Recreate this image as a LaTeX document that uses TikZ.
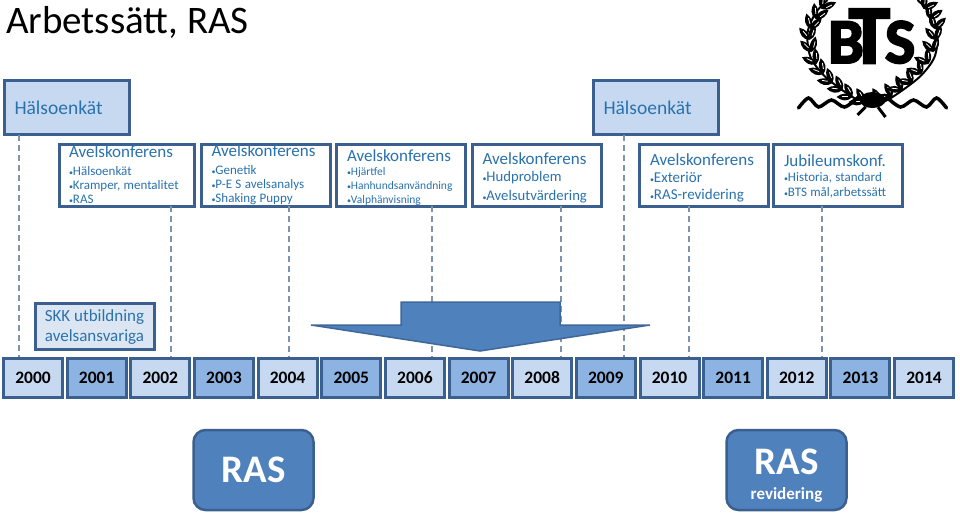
\documentclass[tikz,border=0pt]{standalone}
\usepackage{fontspec}
\usetikzlibrary{shapes.geometric}
\setmainfont{Carlito}
\newfontfamily\btsfont[BoldFeatures={FakeBold=3}]{Carlito}
\definecolor{ramblue}{HTML}{3B6090}
\definecolor{ljusblue}{HTML}{C6D9F1}
\definecolor{mellanblue}{HTML}{8DB3E2}
\definecolor{skkblue}{HTML}{DCE6F2}
\definecolor{textblue}{HTML}{2A72AE}
\definecolor{pilblue}{HTML}{4F81BD}
\definecolor{streckgray}{HTML}{7F93AD}
% heading of a conference box; the optional length pushes the block down
\newcommand{\rubrik}[2][0pt]{{\fontsize{17}{18}\selectfont\rule{0pt}{#1}#2}}
\newcommand{\punkt}[2]{{\fontsize{#1}{#1}\selectfont{\fontsize{8}{8}\selectfont\textbullet}#2}}
\begin{document}
\begin{tikzpicture}[
    x=1pt, y=-1pt,
    every node/.style={inner sep=0pt, outer sep=0pt},
    konfbox/.style={draw=ramblue, fill=white, line width=3pt, minimum width=129pt, minimum height=62pt,
      text=textblue, align=left, text width=108pt},
    halsabox/.style={draw=ramblue, fill=ljusblue, line width=3pt, minimum width=125pt, minimum height=54pt,
      text=textblue, font=\fontsize{19.5}{24}\selectfont},
    yearbox/.style={draw=ramblue, line width=3pt, minimum width=59pt, minimum height=39pt,
      font=\fontsize{17.5}{20}\selectfont\bfseries, text=black},
    rasbox/.style={draw=ramblue, fill=pilblue, line width=2.5pt, rounded corners=12pt, minimum width=120pt,
      minimum height=80pt, text=white, align=center},
    streck/.style={draw=streckgray, line width=1.1pt, dash pattern=on 6pt off 4pt},
    blad/.pic={
      \fill[black] (0,0) .. controls (5,5) and (11,4) .. (16,0) .. controls (11,-4) and (5,-5) .. (0,0);
      \draw[white, line width=.8pt] (5,.8) -- (11,.8);
    }
  ]
  \useasboundingbox (0,0) rectangle (960,515);

  %--------------------------------------
  % 1) Title
  %--------------------------------------
  \node[anchor=west, font=\fontsize{39}{42}\selectfont, text=black] (titel) at (6,22) {Arbetssätt, RAS};

  %--------------------------------------
  % 2) Lower ends of the dashed lines
  %--------------------------------------
  \coordinate (d0) at (19,357);
  \coordinate (d1) at (171,357);
  \coordinate (d2) at (289,357);
  \coordinate (d3) at (432,357);
  \coordinate (d4) at (561,357);
  \coordinate (d5) at (624,357);
  \coordinate (d6) at (689,357);
  \coordinate (d7) at (822,357);

  %--------------------------------------
  % 3) Survey boxes
  %--------------------------------------
  \node[halsabox, anchor=west, text width=104pt, align=left, inner xsep=10.5pt] (halsa1) at (4,107.5) {Hälsoenkät};
  \node[halsabox, anchor=west, text width=104pt, align=left, inner xsep=10.5pt] (halsa2) at (593,107.5) {Hälsoenkät};

  %--------------------------------------
  % 4) Conference boxes
  %--------------------------------------
  \node[konfbox, minimum width=135pt, text width=115pt] (konf1) at (126.5,175) {\rubrik{Avelskonferens}\\[6pt]
    \punkt{13}{Hälsoenkät}\\[2pt]\punkt{13}{Kramper, mentalitet}\\[2pt]\punkt{13}{RAS}};
  \node[konfbox] (konf2) at (265.5,175) {\rubrik{Avelskonferens}\\[6pt]
    \punkt{13}{Genetik}\\[2pt]\punkt{13}{P-E S avelsanalys}\\[2pt]\punkt{13}{Shaking Puppy}};
  \node[konfbox] (konf3) at (401,175) {\rubrik[17pt]{Avelskonferens}\\[2pt]
    \punkt{11.5}{Hjärtfel}\\[2pt]\punkt{11.5}{Hanhundsanvändning}\\[2pt]\punkt{11.5}{Valphänvisning}};
  \node[konfbox] (konf4) at (536.5,175) {\rubrik[18pt]{Avelskonferens}\\[5pt]
    \punkt{14.7}{Hudproblem}\\[5pt]\punkt{14.7}{Avelsutvärdering}};
  \node[konfbox] (konf5) at (704,175) {\rubrik[18pt]{Avelskonferens}\\[5pt]
    \punkt{15}{Exteriör}\\[5pt]\punkt{15}{RAS-revidering}};
  \node[konfbox] (konf6) at (838,175) {\rubrik[15pt]{Jubileumskonf.}\\[3pt]
    \punkt{13}{Historia, standard}\\[3pt]\punkt{13}{BTS mål,arbetssätt}};

  % Dashed lines, behind the arrow
  \draw[streck] (halsa1.south -| d0) -- (d0);
  \draw[streck] (konf1.south -| d1) -- (d1);
  \draw[streck] (konf2.south -| d2) -- (d2);
  \draw[streck] (konf3.south -| d3) -- (d3);
  \draw[streck] (konf4.south -| d4) -- (d4);
  \draw[streck] (halsa2.south -| d5) -- (d5);
  \draw[streck] (konf5.south -| d6) -- (d6);
  \draw[streck] (konf6.south -| d7) -- (d7);

  %--------------------------------------
  % 5) Training box and the wide arrow
  %--------------------------------------
  \node[draw=ramblue, fill=skkblue, line width=3pt, minimum width=119pt, minimum height=46pt, text=textblue,
    align=center, font=\fontsize{17}{20.5}\selectfont] (skk) at (94.5,326) {\rule{0pt}{14pt}SKK utbildning\\avelsansvariga};

  \draw[draw=ramblue!80!pilblue, fill=pilblue, line width=1.5pt, line join=miter]
    (311,325) -- (401,325) -- (401,302) -- (560,302) -- (560,325) -- (650,325) -- (480,351) -- cycle;

  %--------------------------------------
  % 6) Years
  %--------------------------------------
  \foreach \yr [count=\i from 0] in {2000,...,2014} {
    \pgfmathtruncatemacro{\rest}{mod(\i,2)}
    \ifnum\rest=0 \def\fyll{ljusblue}\else \def\fyll{mellanblue}\fi
    \node[yearbox, fill=\fyll] (y\yr) at ({33+63.65*\i},377.5) {\yr};
  }

  %--------------------------------------
  % 7) RAS boxes
  %--------------------------------------
  \node[rasbox, font=\fontsize{39}{42}\selectfont\bfseries] (ras1) at (253.5,470) {RAS};
  \node[rasbox] (ras2) at (786.5,470) {{\fontsize{39}{42}\selectfont\bfseries\rule{0pt}{37pt}RAS}\\[12pt]
    {\fontsize{17}{20}\selectfont\bfseries revidering}};

  %--------------------------------------
  % 8) Logo: wreath, ribbon and letters
  %--------------------------------------
  \begin{scope}[shift={(872.5,0)}]
    \foreach \sida in {1,-1} {
      \begin{scope}[xscale=\sida]
        % Stem and leaves of one branch
        \draw[black, line width=2pt] plot[smooth] coordinates {(0,107) (-20,97) (-47,77) (-62,57) (-65,33) (-57,13) (-45,0)};
        \foreach \sx/\sy/\sv in {-8/102/150, -20/97/150, -30/90/145, -40/83/140, -49/74/130, -56/64/125,
            -61/52/105, -63/40/100, -62/29/75, -57/19/65, -51/9/55} {
          \pic[rotate=\sv+30] at (\sx,\sy) {blad};
          \pic[rotate=\sv-30] at (\sx,\sy) {blad};
        }
        % Ribbon
        \draw[black, line width=3.5pt, line cap=round] plot[smooth] coordinates {(-74,108) (-64,98) (-54,107) (-41,100) (-28,107) (-14,97)};
      \end{scope}
    }
    % Knot
    \node[fill=black, ellipse, minimum width=26pt, minimum height=16pt] (knut) at (0,100) {};
    \coordinate (flik1) at (-15,115);
    \coordinate (flik2) at (13,117);
    \draw[black, line width=3pt] (flik1) -- (knut) -- (flik2);
    % Letters
    \node[anchor=base west, text=black, font=\btsfont\bfseries] (bts) at (-44.5,63)
      {\fontsize{64}{64}\selectfont B\kern-15pt{\fontsize{83}{83}\selectfont T}\kern-5pt S};
  \end{scope}
\end{tikzpicture}
\end{document}
